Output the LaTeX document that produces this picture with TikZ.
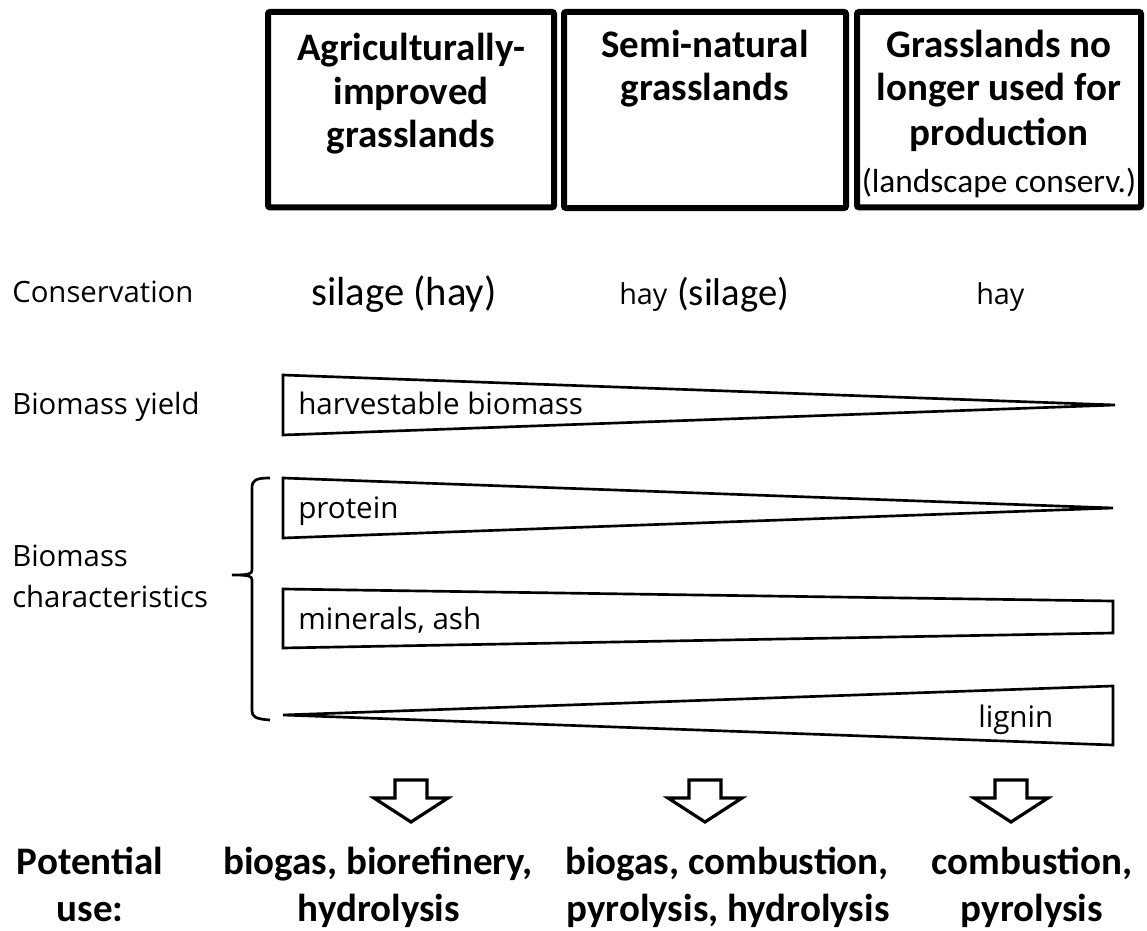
\documentclass[tikz,border=0pt]{standalone}
\usepackage{fontspec}
\setmainfont{Carlito}
\newfontfamily\seg{Open Sans}
\begin{document}
\begin{tikzpicture}[x=0.75pt,y=-0.75pt,
  gbox/.style={draw, line width=4.5pt, rounded corners=1.5pt, inner sep=0pt, outer sep=0pt, anchor=north west},
  head/.style={font=\fontsize{29.25pt}{32pt}\selectfont\bfseries, anchor=base, inner sep=0pt},
  small/.style={font=\fontsize{25pt}{28pt}\selectfont, anchor=base, inner sep=0pt},
  rowlab/.style={font=\seg\fontsize{22pt}{26pt}\selectfont, anchor=base west, inner sep=0pt},
  trilab/.style={font=\seg\fontsize{22.2pt}{26pt}\selectfont, anchor=base west, inner sep=0pt},
  cons/.style={font=\fontsize{30.5pt}{34pt}\selectfont, anchor=base, inner sep=0pt},
  hayf/.style={font=\seg\fontsize{21.6pt}{26pt}\selectfont, anchor=base west, inner sep=0pt},
  wedge/.style={draw, line width=2pt, line join=miter, fill=white},
  barrow/.style={draw, line width=2.4pt, line join=miter, fill=white}]
\useasboundingbox (0,0) rectangle (1147,931);
% boxes
\node[gbox, minimum width=214.5pt, minimum height=146.5pt] (box1) at (268,12) {};
\node[gbox, minimum width=211.5pt, minimum height=147pt] (box2) at (564,12) {};
\node[gbox, minimum width=213pt, minimum height=146.5pt] (box3) at (857,12) {};
\node[head] (b1a) at (411,61) {Agriculturally-};
\node[head] (b1b) at (411,104) {improved};
\node[head] (b1c) at (411,147) {grasslands};
\node[head] (b2a) at (705,58) {Semi-natural};
\node[head] (b2b) at (705,101) {grasslands};
\node[head] (b3a) at (999,58) {Grasslands no};
\node[head] (b3b) at (999,101) {longer used for};
\node[head] (b3c) at (999,146) {production};
\node[small] (b3d) at (999,192) {(landscape conserv.)};
% conservation row
\node[rowlab] (lcons) at (12,302) {Conservation};
\node[cons] (c1) at (404,305) {silage (hay)};
\node[hayf] (c2a) at (619,304) {hay};
\node[anchor=base west, inner sep=0pt, font=\fontsize{29pt}{32pt}\selectfont] (c2b) at (677,305) {(silage)};
\node[hayf] (c3) at (976,304) {hay};
% biomass yield
\node[rowlab] (lyield) at (12,414) {Biomass yield};
\draw[wedge] (283,375) -- (1115,405) -- (283,435) -- cycle;
\node[trilab] (tyield) at (298,414) {harvestable biomass};
% characteristics
\node[rowlab] (lchar1) at (12,566) {Biomass};
\node[rowlab] (lchar2) at (12,607) {characteristics};
\draw[line width=2pt] (270,478) .. controls (256,478) and (252,480) .. (252,488) -- (252,570) .. controls (252,574) and (249,575) .. (232,575) .. controls (249,575) and (252,576) .. (252,580) -- (252,711) .. controls (252,717) and (256,719) .. (270,720);
\draw[wedge] (283,478) -- (1113,508) -- (283,538) -- cycle;
\node[trilab] (tprot) at (298,518) {protein};
\draw[wedge] (283,589) -- (1113,601) -- (1113,633) -- (283,648) -- cycle;
\node[trilab] (tmin) at (298,629) {minerals, ash};
\draw[wedge] (283,715) -- (1113,686) -- (1113,745) -- cycle;
\node[trilab] (tlig) at (978,727) {lignin};
% arrows
\foreach \cx/\nm in {411/a1, 705/a2, 1011/a3}{
  \draw[barrow] (\cx-16,780) -- (\cx+16,780) -- (\cx+16,798) -- (\cx+37,798) -- (\cx,822) -- (\cx-37,798) -- (\cx-16,798) -- cycle;
  \coordinate (\nm) at (\cx,822);
}
% potential use
\node[head] (pu1) at (90,874) {Potential};
\node[head] (pu2) at (90,921) {use:};
\node[head] (u1a) at (378,874) {biogas, biorefinery,};
\node[head] (u1b) at (379,921) {hydrolysis};
\node[head] (u2a) at (727,874) {biogas, combustion,};
\node[head] (u2b) at (728,921) {pyrolysis, hydrolysis};
\node[head] (u3a) at (1032,874) {combustion,};
\node[head] (u3b) at (1032,921) {pyrolysis};
\end{tikzpicture}
\end{document}
